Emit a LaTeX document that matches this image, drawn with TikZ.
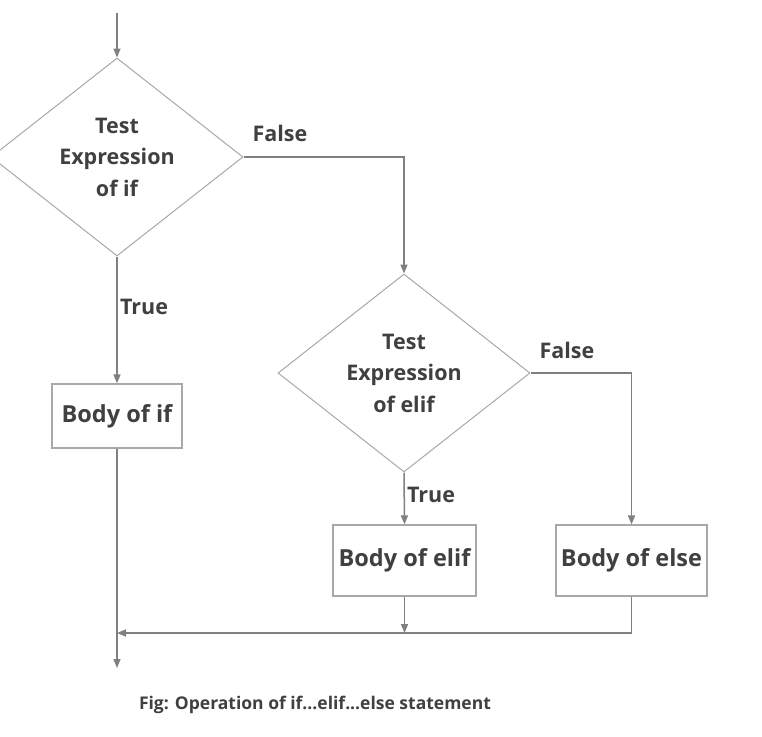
\documentclass[tikz,border=0pt]{standalone}
\usepackage{fontspec}
\setmainfont{Open Sans}
\usetikzlibrary{arrows.meta,shapes.geometric}
\definecolor{linegray}{HTML}{808080}
\definecolor{bordergray}{HTML}{A8A8A8}
\definecolor{textgray}{HTML}{404040}
\begin{document}
\begin{tikzpicture}[x=1pt,y=-1pt,
  every node/.style={text=textgray},
  decision/.style={diamond, draw=bordergray, line width=1pt, minimum width=252pt, minimum height=198pt, inner sep=0pt, shape aspect=1.27, align=center, font=\bfseries\fontsize{21.5}{31.5}\selectfont},
  block/.style={rectangle, draw=bordergray, line width=1.2pt, inner sep=0pt, font=\bfseries\fontsize{23.5}{28}\selectfont},
  flow/.style={draw=linegray, line width=1.5pt, -{Triangle[length=9pt,width=7pt]}},
  lbl/.style={font=\bfseries\fontsize{21.5}{26}\selectfont}]
\useasboundingbox (0,0) rectangle (762,736);
\node[decision] (d1) at (117,157) {Test\\Expression\\of if};
\node[decision] (d2) at (404,373) {Test\\Expression\\of elif};
\node[block, minimum width=130pt, minimum height=64pt] (b1) at (117,416) {Body of if};
\node[block, minimum width=143pt, minimum height=71pt] (b2) at (404.5,560.5) {Body of elif};
\node[block, minimum width=151pt, minimum height=71pt] (b3) at (631.5,560.5) {Body of else};
\coordinate (start) at (117,13);
\coordinate (merge) at (117,633);
\coordinate (end) at (117,668);
\draw[flow] (start) -- (d1.north);
\draw[flow] (d1.east) -| (d2.north);
\draw[flow] (d1.south) -- (b1.north);
\draw[flow] (d2.east) -| (b3.north);
\draw[flow] (d2.south) -- (b2.north);
\draw[flow] (b1.south) -- (end);
\draw[flow] (b2.south) -- (b2.south |- merge);
\draw[flow] (b3.south) |- (merge);
\node[lbl] (f1) at (280,133) {False};
\node[lbl] (t1) at (144,307) {True};
\node[lbl] (f2) at (567,350) {False};
\node[lbl] (t2) at (431,495) {True};
\node[font=\bfseries\fontsize{17.5}{21}\selectfont] (cap) at (315,705) {Fig: Operation of if...elif...else statement};
\end{tikzpicture}
\end{document}
